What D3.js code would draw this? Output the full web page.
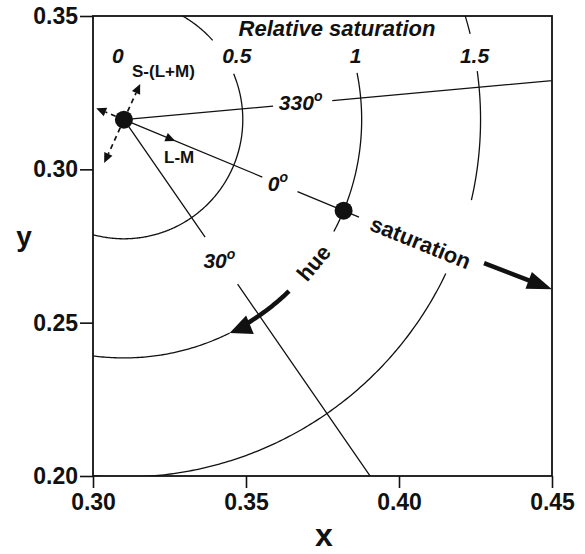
<!DOCTYPE html>
<html>
<head>
<meta charset="utf-8">
<script src="https://cdn.jsdelivr.net/npm/d3@7"></script>
<style>
body { margin: 0; background: #fff; }
text { font-family: "Liberation Sans", Arial, Helvetica, sans-serif; fill: #111; }
</style>
</head>
<body>
<div id="chart"></div>
<script>
//////////////////////////////////////////////////////////////////////////////
// Data

var xTicks = [0.30, 0.35, 0.40, 0.45];
var yTicks = [0.20, 0.25, 0.30, 0.35];

var whitePoint  = [0.3101, 0.3162];   // illuminant C
var samplePoint = [0.3819, 0.2865];   // relative saturation 1, hue 0

var satLabels  = [0, 0.5, 1, 1.5];
// visible parts of each saturation circle, degrees clockwise from +x
var arcSat  = [0.5, 0.5, 1, 1, 1.5, 1.5, 1.5];
var arcFrom = [-62, -22.6, -11.3, 63.6, -17.5, -7.8, 25.5];
var arcTo   = [-41.7, 120, 28, 110, -13.9, 13, 100];

var hueNames  = ["0", "330", "30"];
var hueAngles = [null, -5.2, 55.3];          // 0 comes from the sample point
var hueGapFrom = [0.63, 0.63, 0.60];         // in units of relative saturation
var hueGapTo   = [0.79, 0.88, 0.84];
var hueEnd     = [1.07, 2.2, 2.2];

var hueArrow = [46, 63.6];                   // along saturation 1
var satArrowStart = [0.4278, 0.2694];
var satArrowEnd   = [0.4500, 0.2609];

var coneNames  = ["L-M", "S-(L+M)"];
var coneAngle2 = -65.5;
var coneBack   = [0.126, 0.20];
var coneFwd    = [0.234, 0.165];

//////////////////////////////////////////////////////////////////////////////

var width = 585, height = 554;
var padL = 93, padT = 16, plotW = 459, plotH = 460;

var xScale = d3.scaleLinear().domain([0.30, 0.45]).range([padL, padL + plotW]);
var yScale = d3.scaleLinear().domain([0.20, 0.35]).range([padT + plotH, padT]);

var dx = samplePoint[0] - whitePoint[0], dy = samplePoint[1] - whitePoint[1];
var satUnit = Math.sqrt(dx * dx + dy * dy);
var hue0 = -Math.atan2(dy, dx) * 180 / Math.PI;
hueAngles[0] = hue0;
var coneAngles = [hue0, coneAngle2];

function polar(sat, ang) {
    var a = ang * Math.PI / 180;
    return [xScale(whitePoint[0] + sat * satUnit * Math.cos(a)),
            yScale(whitePoint[1] - sat * satUnit * Math.sin(a))];
}

function headPath(tip, ang, len, half) {
    var a = ang * Math.PI / 180;
    var bx = tip[0] - len * Math.cos(a), by = tip[1] - len * Math.sin(a);
    var nx = -Math.sin(a), ny = Math.cos(a);
    return "M" + tip[0] + "," + tip[1] +
        "L" + (bx + half * nx) + "," + (by + half * ny) +
        "L" + (bx - half * nx) + "," + (by - half * ny) + "Z";
}

var line = d3.line();

var svg = d3.select("#chart")
    .append("svg")
    .attr("width", width)
    .attr("height", height);

svg.append("clipPath").attr("id", "plotclip")
    .append("rect")
    .attr("x", padL).attr("y", padT)
    .attr("width", plotW).attr("height", plotH);

var plot = svg.append("g").attr("clip-path", "url(#plotclip)");

// saturation circles
plot.selectAll("path.arc")
    .data(arcSat)
    .enter()
    .append("path")
    .attr("class", "arc")
    .attr("d", function(s, i) {
        var pts = d3.range(arcFrom[i], arcTo[i], 0.5).concat([arcTo[i]])
            .map(function(a) { return polar(s, a); });
        return line(pts);
    })
    .attr("fill", "none")
    .attr("stroke", "#111")
    .attr("stroke-width", 1.3);

// hue lines
hueNames.forEach(function(name, i) {
    var a = hueAngles[i];
    plot.append("path")
        .attr("d", line([polar(0, a), polar(hueGapFrom[i], a)]) +
                   line([polar(hueGapTo[i], a), polar(hueEnd[i], a)]))
        .attr("fill", "none")
        .attr("stroke", "#111")
        .attr("stroke-width", 1.3);
    var mid = polar((hueGapFrom[i] + hueGapTo[i]) / 2, a);
    var t = svg.append("text")
        .attr("x", mid[0] - 2)
        .attr("y", mid[1] + 7)
        .attr("text-anchor", "middle")
        .attr("font-size", 21)
        .attr("font-weight", "bold")
        .attr("font-style", "italic")
        .text(name);
    t.append("tspan")
        .attr("font-size", 14)
        .attr("dy", -9)
        .text("o");
});

// hue arrow, thick, along saturation 1
var hueHeadLen = 22;
var hueLineEnd = hueArrow[1] - hueHeadLen / (satUnit * 3060) * 180 / Math.PI + 1;
svg.append("path")
    .attr("d", line(d3.range(hueArrow[0], hueLineEnd, 0.5).map(function(a) { return polar(1, a); })))
    .attr("fill", "none")
    .attr("stroke", "#111")
    .attr("stroke-width", 4.5);
svg.append("path")
    .attr("d", headPath(polar(1, hueArrow[1]), hueArrow[1] + 90 + 4, hueHeadLen, 10))
    .attr("fill", "#111");

// saturation arrow
var s0 = [xScale(satArrowStart[0]), yScale(satArrowStart[1])];
var s1 = [xScale(satArrowEnd[0]), yScale(satArrowEnd[1])];
var sAng = Math.atan2(s1[1] - s0[1], s1[0] - s0[0]) * 180 / Math.PI;
svg.append("path")
    .attr("d", line([s0, [s1[0] - 20 * Math.cos(sAng * Math.PI / 180), s1[1] - 20 * Math.sin(sAng * Math.PI / 180)]]))
    .attr("stroke", "#111")
    .attr("stroke-width", 4.5);
svg.append("path")
    .attr("d", headPath(s1, sAng, 25, 9))
    .attr("fill", "#111");

// cone axes at the white point
coneNames.forEach(function(name, i) {
    var a = coneAngles[i];
    var back = a + 180;
    var tipB = polar(coneBack[i], back), tipF = polar(coneFwd[i], a);
    var c = polar(0, 0);
    var headLen = 10;
    function short(tip, ang) {
        var r = ang * Math.PI / 180;
        return [tip[0] - headLen * Math.cos(r), tip[1] - headLen * Math.sin(r)];
    }
    svg.append("path")
        .attr("d", line([c, short(tipB, back)]) +
                   (i === 1 ? line([c, short(tipF, a)]) : ""))
        .attr("fill", "none")
        .attr("stroke", "#111")
        .attr("stroke-width", 1.7)
        .attr("stroke-dasharray", "5,4");
    svg.append("path").attr("d", headPath(tipB, back, headLen, 4.5)).attr("fill", "#111");
    svg.append("path").attr("d", headPath(tipF, a, headLen, 4.5)).attr("fill", "#111");
});

svg.append("text").attr("x", 164).attr("y", 163)
    .attr("font-size", 17).attr("font-weight", "bold").text(coneNames[0]);
svg.append("text").attr("x", 132).attr("y", 77)
    .attr("font-size", 17).attr("font-weight", "bold").text(coneNames[1]);

// points
svg.selectAll("circle.pt")
    .data([whitePoint, samplePoint])
    .enter()
    .append("circle")
    .attr("class", "pt")
    .attr("cx", function(d) { return xScale(d[0]); })
    .attr("cy", function(d) { return yScale(d[1]); })
    .attr("r", 9)
    .attr("fill", "#111");

// saturation labels
svg.append("text")
    .attr("x", 337)
    .attr("y", 36)
    .attr("text-anchor", "middle")
    .attr("font-size", 22)
    .attr("font-weight", "bold")
    .attr("font-style", "italic")
    .text("Relative saturation");

svg.selectAll("text.sat")
    .data(satLabels)
    .enter()
    .append("text")
    .attr("class", "sat")
    .attr("x", function(s) { return polar(s, 0)[0] - 6; })
    .attr("y", 63)
    .attr("text-anchor", "middle")
    .attr("font-size", 21)
    .attr("font-weight", "bold")
    .attr("font-style", "italic")
    .text(function(s) { return s; });

// hue / saturation words
var huePos = polar(1.0, 37);
svg.append("text")
    .attr("transform", "translate(" + huePos[0] + "," + huePos[1] + ") rotate(-50)")
    .attr("text-anchor", "middle")
    .attr("dominant-baseline", "central")
    .attr("font-size", 22)
    .attr("font-weight", "bold")
    .text("hue");

var satPos = polar(1.35, hue0);
svg.append("text")
    .attr("transform", "translate(" + satPos[0] + "," + satPos[1] + ") rotate(22)")
    .attr("text-anchor", "middle")
    .attr("dominant-baseline", "central")
    .attr("font-size", 22)
    .attr("font-weight", "bold")
    .text("saturation");

// frame and axes
svg.append("rect")
    .attr("x", padL).attr("y", padT)
    .attr("width", plotW).attr("height", plotH)
    .attr("fill", "none")
    .attr("stroke", "#111")
    .attr("stroke-width", 1.8);

var xAxis = svg.append("g")
    .attr("transform", "translate(0," + (padT + plotH) + ")")
    .call(d3.axisBottom(xScale).tickValues(xTicks).tickFormat(d3.format(".2f")).tickSize(12).tickPadding(6));
var yAxis = svg.append("g")
    .attr("transform", "translate(" + padL + ",0)")
    .call(d3.axisLeft(yScale).tickValues(yTicks).tickFormat(d3.format(".2f")).tickSize(13).tickPadding(2));

[xAxis, yAxis].forEach(function(ax) {
    ax.select(".domain").remove();
    ax.selectAll("line").attr("stroke", "#111").attr("stroke-width", 1.6);
    ax.selectAll("text")
        .attr("fill", "#111")
        .attr("font-family", "'Liberation Sans', Arial, sans-serif")
        .attr("font-size", 23)
        .attr("font-weight", "bold");
});

svg.append("text")
    .attr("x", 324).attr("y", 546)
    .attr("text-anchor", "middle")
    .attr("font-size", 32)
    .attr("font-weight", "bold")
    .text("x");
svg.append("text")
    .attr("x", 24).attr("y", 246)
    .attr("text-anchor", "middle")
    .attr("font-size", 28)
    .attr("font-weight", "bold")
    .text("y");
</script>
</body>
</html>
